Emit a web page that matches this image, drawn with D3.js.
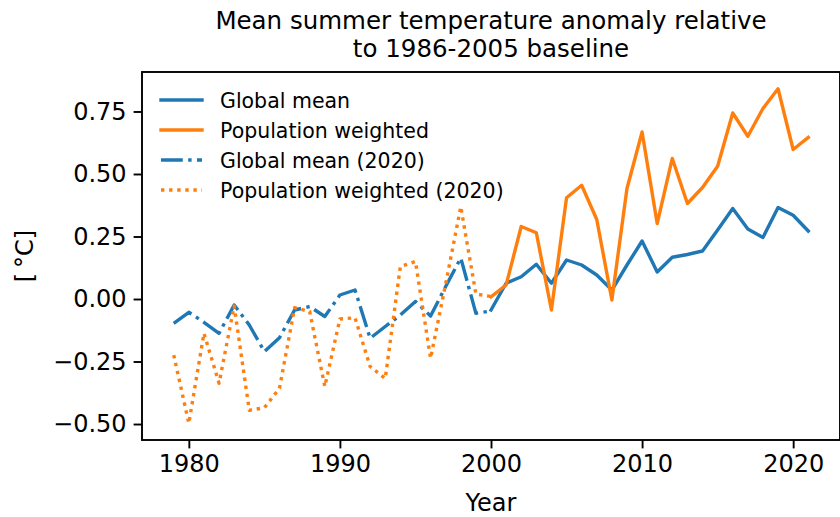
<!DOCTYPE html>
<html>
<head>
<meta charset="utf-8">
<script src="https://cdn.jsdelivr.net/npm/d3@7"></script>
<style>
  body { margin: 0; background: #fff; }
  svg { font-family: "DejaVu Sans", sans-serif; }
</style>
</head>
<body>
<div id="chart"></div>
<script>
// values
var years = d3.range(2000, 2022),
    globalMean = [-0.044, 0.063, 0.089, 0.139, 0.063, 0.156, 0.136, 0.096, 0.036, 0.136, 0.232,
                  0.108, 0.167, 0.178, 0.192, 0.276, 0.362, 0.280, 0.246, 0.366, 0.335, 0.272],
    popWeighted = [0.009, 0.056, 0.290, 0.265, -0.044, 0.405, 0.455, 0.318, -0.004, 0.442, 0.668,
                   0.302, 0.562, 0.382, 0.446, 0.531, 0.744, 0.651, 0.762, 0.841, 0.598, 0.646];

var years2020 = d3.range(1979, 2001),
    globalMean2020 = [-0.097, -0.053, -0.093, -0.137, -0.024, -0.104, -0.210, -0.155, -0.044, -0.030, -0.070,
                      0.016, 0.036, -0.157, -0.110, -0.064, -0.010, -0.068, 0.050, 0.164, -0.057, -0.048],
    popWeighted2020 = [-0.224, -0.497, -0.137, -0.337, -0.028, -0.445, -0.435, -0.357, -0.035, -0.050, -0.350,
                       -0.080, -0.075, -0.270, -0.318, 0.130, 0.150, -0.237, 0.060, 0.369, 0.020, 0.010];

var xTicks = [1980, 1990, 2000, 2010, 2020],
    yTicks = [-0.5, -0.25, 0, 0.25, 0.5, 0.75];

var blue = "#1f77b4", orange = "#ff7f0e", lw = 3.4;

var series = [
  { name: "Global mean", x: years, y: globalMean, color: blue, dash: null },
  { name: "Population weighted", x: years, y: popWeighted, color: orange, dash: null },
  { name: "Global mean (2020)", x: years2020, y: globalMean2020, color: blue, dash: "21.8,5.4,3.4,5.4" },
  { name: "Population weighted (2020)", x: years2020, y: popWeighted2020, color: orange, dash: "3.4,4.7" }
];

var W = 840, H = 517,
    margin = { top: 72, right: 0, bottom: 77, left: 142 },
    width = W - margin.left - margin.right,
    height = H - margin.top - margin.bottom;

// matplotlib style 5% padding
var allX = years.concat(years2020),
    allY = globalMean.concat(popWeighted, globalMean2020, popWeighted2020),
    xe = d3.extent(allX), ye = d3.extent(allY),
    xpad = (xe[1] - xe[0]) * 0.05, ypad = (ye[1] - ye[0]) * 0.05;

var x = d3.scaleLinear().domain([xe[0] - xpad, xe[1] + xpad]).range([0, width]);
var y = d3.scaleLinear().domain([ye[0] - ypad, ye[1] + ypad]).range([height, 0]);

const svg = d3.select("#chart").append("svg")
    .attr("width", W)
    .attr("height", H);

const g = svg.append("g")
    .attr("transform", "translate(" + margin.left + "," + margin.top + ")");

g.append("clipPath").attr("id", "clip")
  .append("rect").attr("width", width).attr("height", height);

var line = d3.line();

var plot = g.append("g").attr("clip-path", "url(#clip)");
series.forEach(function(s) {
  plot.append("path")
    .datum(s.x.map((v, i) => [x(v), y(s.y[i])]))
    .attr("d", line)
    .attr("fill", "none")
    .attr("stroke", s.color)
    .attr("stroke-width", lw)
    .attr("stroke-linejoin", "round")
    .attr("stroke-linecap", s.dash ? "butt" : "square")
    .attr("stroke-dasharray", s.dash);
});

// axes
var xAxis = g.append("g")
    .attr("transform", "translate(0," + height + ")")
    .call(d3.axisBottom(x).tickValues(xTicks).tickFormat(d3.format("d")).tickSizeInner(8.4).tickSizeOuter(0).tickPadding(7));
var yAxis = g.append("g")
    .call(d3.axisLeft(y).tickValues(yTicks).tickFormat(d => d3.format(".2f")(d).replace("-", "\u2212")).tickSizeInner(8.4).tickSizeOuter(0).tickPadding(7));

[xAxis, yAxis].forEach(function(a) {
  a.select(".domain").remove();
  a.selectAll(".tick line").attr("stroke", "#000").attr("stroke-width", 1.9);
  a.selectAll(".tick text").attr("fill", "#000").style("font-size", "24px").style("font-family", "DejaVu Sans");
});

// frame
g.append("rect")
    .attr("width", width)
    .attr("height", height)
    .attr("fill", "none")
    .attr("stroke", "#000")
    .attr("stroke-width", 1.9);

// labels
svg.append("text")
    .attr("x", margin.left + width / 2)
    .attr("y", 511)
    .attr("text-anchor", "middle")
    .style("font-size", "24px")
    .text("Year");

svg.append("text")
    .attr("transform", "translate(33," + (margin.top + height / 2) + ") rotate(-90)")
    .attr("text-anchor", "middle")
    .style("font-size", "24px")
    .text("[\u2009\u00B0C]");

var title = svg.append("text")
    .attr("text-anchor", "middle")
    .style("font-size", "24.5px");
title.append("tspan").attr("x", margin.left + width / 2).attr("y", 29).text("Mean summer temperature anomaly relative");
title.append("tspan").attr("x", margin.left + width / 2).attr("y", 57).text("to 1986-2005 baseline");

// legend
var legend = g.selectAll(".legend")
    .data(series)
    .enter().append("g")
    .attr("class", "legend")
    .attr("transform", function(d, i) { return "translate(0," + (28 + i * 30) + ")"; });

legend.append("line")
    .attr("x1", 19).attr("x2", 60)
    .attr("stroke", d => d.color)
    .attr("stroke-width", lw)
    .attr("stroke-linecap", d => d.dash ? "butt" : "square")
    .attr("stroke-dasharray", d => d.dash);

legend.append("text")
    .attr("x", 78)
    .attr("y", 7.5)
    .style("font-size", "20.5px")
    .text(d => d.name);
</script>
</body>
</html>
